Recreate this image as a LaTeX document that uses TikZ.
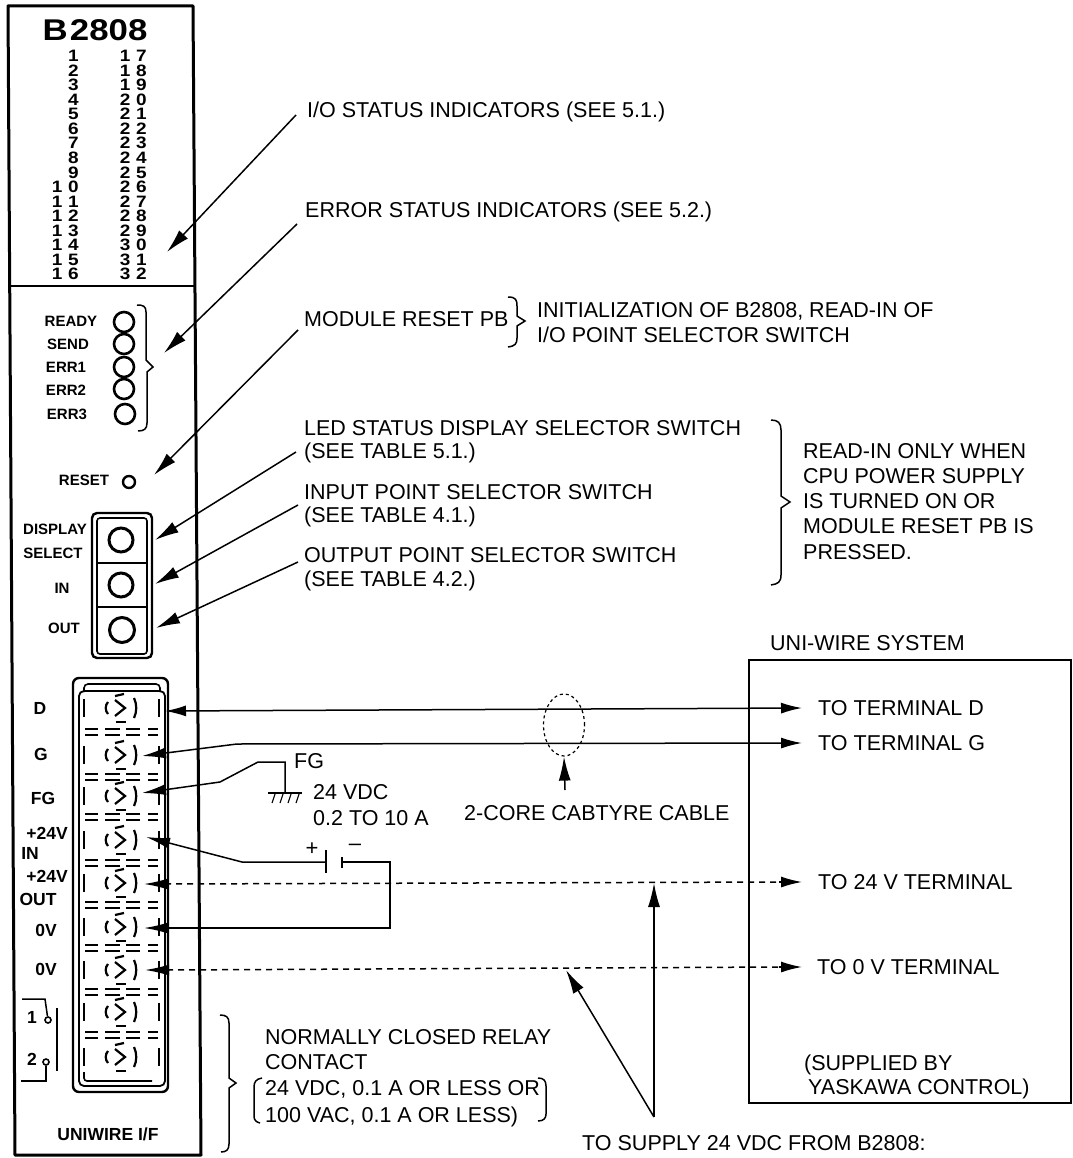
\documentclass[tikz,border=0pt]{standalone}
\usepackage{fontspec}
\setmainfont{Liberation Sans}
\usetikzlibrary{arrows.meta,calc,shapes.geometric}
\newcommand{\dg}{\kern5pt}
\newcommand{\tl}[4]{\node[lab] (#1) at (#2,#3+7.5) {#4};}
\tikzset{
  x=1pt,y=-1pt,
  lab/.style={anchor=base west,inner sep=0pt,font=\fontsize{21.5}{23}\selectfont},
  pan/.style={inner sep=0pt,font=\fontsize{15}{16}\selectfont\bfseries},
  term/.style={inner sep=0pt,font=\fontsize{17.5}{18}\selectfont\bfseries},
  num/.style={anchor=east,inner sep=0pt,xscale=1.15,font=\fontsize{16.5}{17}\selectfont\bfseries},
  wire/.style={line width=1.5pt},
  dash wire/.style={line width=1.5pt,dash pattern=on 6pt off 5pt},
  frame/.style={line width=3pt},
  heavy/.style={line width=2.4pt},
  head/.style={-{Latex[length=24pt,width=12pt]}},
  rhead/.style={-{Latex[length=21pt,width=11pt]}},
  dhead/.style={{Latex[length=21pt,width=11pt]}-{Latex[length=21pt,width=11pt]}},
  headback/.style={{Latex[length=24pt,width=11pt]}-},
  led/.style={circle,draw,line width=2.6pt,inner sep=0pt,minimum size=20pt},
  dial/.style={circle,draw,line width=3pt,inner sep=0pt,minimum size=24pt},
}
\begin{document}
\begin{tikzpicture}
\useasboundingbox (0,0) rectangle (1072,1158);
% module frame
\draw[frame,line join=round] (8,6) -- (193,6) -- (201,1155) -- (15,1155) -- cycle;
\draw[line width=2pt] (9,286) -- (194,286);
\node[inner sep=0pt,font=\fontsize{30}{30}\selectfont\bfseries,xscale=1.16] (title) at (95,30) {B\kern2pt 2808};
% numbers
\foreach \n [count=\k from 0] in {1,2,3,4,5,6,7,8,9,1\dg 0,1\dg 1,1\dg 2,1\dg 3,1\dg 4,1\dg 5,1\dg 6}
  \node[num] (numa\k) at (79,{56+14.55*\k}) {\n};
\foreach \n [count=\k from 0] in {1\dg 7,1\dg 8,1\dg 9,2\dg 0,2\dg 1,2\dg 2,2\dg 3,2\dg 4,2\dg 5,2\dg 6,2\dg 7,2\dg 8,2\dg 9,3\dg 0,3\dg 1,3\dg 2}
  \node[num] (numb\k) at (147,{56+14.55*\k}) {\n};
% LEDs
\node[pan] (ready) at (71,321) {READY};
\node[pan] (send) at (68,344) {SEND};
\node[pan] (erra) at (66,367) {ERR1};
\node[pan] (errb) at (66,390) {ERR2};
\node[pan] (errc) at (67,414) {ERR3};
\node[led] (leda) at (124,322) {};
\node[led] (ledb) at (124,344) {};
\node[led] (ledc) at (124,367) {};
\node[led] (ledd) at (124,389) {};
\node[led] (lede) at (125,414) {};
\draw[wire] (137,305) .. controls (143,305) and (146,306) .. (146,312) -- (146,360) -- (153,367) -- (147,372) -- (147,423) .. controls (147,429) and (144,431) .. (138,431);
\node[pan] (reset) at (84,480) {RESET};
\node[circle,draw,line width=2.4pt,inner sep=0pt,minimum size=12pt] (resetb) at (129,482) {};
% switches
\draw[heavy,rounded corners=5pt] (92,513) rectangle (152,658);
\draw[line width=1.6pt,rounded corners=3pt] (97,518) rectangle (147,654);
\draw[heavy] (97,563) -- (147,563) (97,607) -- (147,607);
\node[dial] (dsel) at (121,540) {};
\node[dial] (din) at (121,585) {};
\node[dial,minimum size=25pt] (dout) at (122,630) {};
\node[pan] (display) at (55,529) {DISPLAY};
\node[pan] (select) at (53,553) {SELECT};
\node[pan] (inl) at (62,588) {IN};
\node[pan] (outl) at (64,628) {OUT};
% connector block
\draw[heavy,rounded corners=6pt] (73,678) rectangle (168,1092);
\draw[line width=1.8pt,rounded corners=5pt] (79,691) rectangle (165,1086);
\draw[line width=1.6pt,rounded corners=4pt] (84,692) -- (84,684) -- (160,684) -- (160,692);
\draw[line width=1.6pt,rounded corners=3pt] (84,1072) -- (84,1081) -- (152,1081);
\foreach \y in {708,755,796,840,883,927,970,1012,1057}{
  \begin{scope}[shift={(0,\y)},line width=2.2pt]
    \draw (108,-6) .. controls (105,-3) and (105,3) .. (108,6);
    \draw (134,-10) .. controls (137,-4) and (137,4) .. (134,10);
    \draw (115,-8) -- (125,0) -- (115,8);
    \draw (115,-12) -- (124,-14);
    \draw (116,14) -- (126,14);
    \draw (84,-9) -- (84,9);
    \draw (159,-9) -- (159,9);
  \end{scope}}
\foreach \y in {732,777,817,863,905,948,992,1035}{
  \begin{scope}[shift={(0,\y)},line width=2.2pt]
    \draw (85,-3) -- (98,-3) (105,-3) -- (120,-3) (126,-3) -- (140,-3) (148,-3) -- (158,-3);
    \draw (85,3) -- (98,3) (105,3) -- (120,3) (126,3) -- (140,3) (148,3) -- (158,3);
  \end{scope}}
\node[term] (td) at (40,708) {D};
\node[term] (tg) at (41,754) {G};
\node[term] (tfg) at (43,798) {FG};
\node[term] (tpi) at (47,833) {+24V};
\node[term] (tin) at (30,853) {IN};
\node[term] (tpo) at (47,876) {+24V};
\node[term] (tout) at (38,899) {OUT};
\node[term] (tza) at (46,930) {0V};
\node[term] (tzb) at (46,969) {0V};
\node[term] (rone) at (32,1017) {1};
\node[term] (rtwo) at (32,1059) {2};
\node[circle,draw,line width=1.6pt,inner sep=0pt,minimum size=6pt] (ca) at (48,1020) {};
\node[circle,draw,line width=1.6pt,inner sep=0pt,minimum size=6pt] (cb) at (46,1062) {};
\coordinate (ra) at (22,999);
\coordinate (rb) at (21,1081);
\draw[wire] (ra) -- (45,999) -- (ca);
\draw[wire] (rb) -- (46,1081) -- (cb);
\draw[wire] (57,1008) -- (57,1071);
\node[term] (uni) at (108,1134) {UNIWIRE I/F};
% annotation texts
\tl{tio}{307}{110}{I/O STATUS INDICATORS (SEE 5.1.)}
\tl{terr}{305}{210}{ERROR STATUS INDICATORS (SEE 5.2.)}
\tl{tmod}{304}{319}{MODULE RESET PB}
\tl{tini}{537}{310}{INITIALIZATION OF B2808, READ-IN OF}
\tl{tios}{537}{335}{I/O POINT SELECTOR SWITCH}
\tl{tled}{304}{428}{LED STATUS DISPLAY SELECTOR SWITCH}
\tl{tsa}{304}{451}{(SEE TABLE 5.1.)}
\tl{tinp}{304}{492}{INPUT POINT SELECTOR SWITCH}
\tl{tsb}{304}{515}{(SEE TABLE 4.1.)}
\tl{toup}{304}{555}{OUTPUT POINT SELECTOR SWITCH}
\tl{tsc}{304}{579}{(SEE TABLE 4.2.)}
\tl{tra}{803}{451}{READ-IN ONLY WHEN}
\tl{trb}{803}{476}{CPU POWER SUPPLY}
\tl{trc}{803}{501}{IS TURNED ON OR}
\tl{trd}{803}{526}{MODULE RESET PB IS}
\tl{tre}{803}{552}{PRESSED.}
\tl{tuni}{770}{643}{UNI-WIRE SYSTEM}
\tl{ttd}{818}{708}{TO TERMINAL D}
\tl{ttg}{818}{743}{TO TERMINAL G}
\tl{tt24}{818}{882}{TO 24 V TERMINAL}
\tl{tt0}{817}{967}{TO 0 V TERMINAL}
\tl{tsup}{804}{1063}{(SUPPLIED BY}
\tl{tyas}{808}{1087}{YASKAWA CONTROL)}
\tl{tfgl}{294}{761}{FG}
\tl{tvdc}{313}{792}{24 VDC}
\tl{tamp}{313}{818}{0.2 TO 10 A}
\tl{tcab}{464}{813}{2-CORE CABTYRE CABLE}
\tl{tnca}{265}{1037}{NORMALLY CLOSED RELAY}
\tl{tncb}{265}{1062}{CONTACT}
\tl{tncc}{265}{1088}{24 VDC, 0.1 A OR LESS OR}
\tl{tncd}{265}{1115}{100 VAC, 0.1 A OR LESS)}
\tl{tsupply}{582}{1143}{TO SUPPLY 24 VDC FROM B2808:}
\node[inner sep=0pt,font=\fontsize{22}{22}\selectfont] (plus) at (312,849) {+};
\node[inner sep=0pt,font=\fontsize{22}{22}\selectfont] (minus) at (355,847) {–};
% braces and brackets
\draw[wire] (508,297) .. controls (516,297) and (517,300) .. (517,306) -- (517,316) -- (525,321) -- (517,326) -- (517,338) .. controls (517,344) and (515,346) .. (508,347);
\draw[wire] (771,420) .. controls (778,420) and (781,423) .. (781,430) -- (781,496) -- (790,502) -- (781,508) -- (781,575) .. controls (781,582) and (778,584) .. (771,585);
\draw[wire] (220,1015) .. controls (226,1015) and (229,1017) .. (229,1023) -- (229,1078) -- (236,1083) -- (229,1088) -- (229,1144) .. controls (229,1150) and (226,1152) .. (221,1152);
\draw[wire] (262,1078) .. controls (256,1079) and (254,1082) .. (254,1087) -- (254,1116) .. controls (254,1120) and (256,1122) .. (260,1123);
\draw[wire] (538,1078) .. controls (544,1078) and (546,1081) .. (546,1086) -- (546,1114) .. controls (546,1118) and (544,1121) .. (538,1121);
% UNI-WIRE box
\draw[wire] (749,660) rectangle (1071,1103);
% annotation arrows
\coordinate (sa) at (296,115); \coordinate (ea) at (167,252);
\coordinate (sb) at (297,224); \coordinate (eb) at (164,353);
\coordinate (sc) at (298,330); \coordinate (ec) at (154,475);
\coordinate (sd) at (296,452); \coordinate (ed) at (155,540);
\coordinate (se) at (298,505); \coordinate (ee) at (155,584);
\coordinate (sf) at (298,562); \coordinate (ef) at (156,628);
\foreach \p/\q in {sa/ea,sb/eb,sc/ec,sd/ed,se/ee,sf/ef}
  \draw[wire,head] (\p) -- (\q);
% terminals wiring
\coordinate (dl) at (165,711); \coordinate (dr) at (802,708);
\coordinate (gl) at (142,756); \coordinate (gm) at (237,744); \coordinate (gr) at (802,743);
\coordinate (fl) at (142,793); \coordinate (fa) at (220,782); \coordinate (fb) at (258,762); \coordinate (fc) at (285,762);
\coordinate (gnd) at (285,793);
\draw[wire,dhead] (dl) -- (dr);
\draw[wire,rhead] (gm) -- (gr);
\draw[wire,headback] (gl) -- (gm);
\draw[wire,headback] (fl) -- (fa) -- (fb) -- (fc) -- (gnd);
\draw[wire] (268,793) -- (302,793);
\foreach \x in {272,280,288,296} \draw[line width=1.1pt] (\x,803) -- (\x+3,794);
% battery
\coordinate (il) at (146,837); \coordinate (im) at (242,862);
\coordinate (pa) at (326,862); \coordinate (pb) at (342,862);
\coordinate (rc) at (390,862); \coordinate (rd) at (390,928); \coordinate (zl) at (144,928);
\draw[wire,headback] (il) -- (im) -- (pa);
\draw[wire] (326,850) -- (326,873);
\draw[wire] (342,857) -- (342,868);
\draw[wire,headback] (zl) -- (rd) -- (rc) -- (pb);
% dashed supply lines
\coordinate (ol) at (144,884); \coordinate (ov) at (165,884); \coordinate (orr) at (781,882); \coordinate (ort) at (802,882);
\coordinate (zv) at (145,970); \coordinate (zm) at (167,970); \coordinate (zr) at (781,967); \coordinate (zt) at (802,967);
\draw[wire,headback] (ol) -- (ov);
\draw[dash wire] (ov) -- (orr);
\draw[wire,rhead] (orr) ++(-2,0) -- (ort);
\draw[wire,headback] (zv) -- (zm);
\draw[dash wire] (zm) -- (zr);
\draw[wire,rhead] (zr) ++(-2,0) -- (zt);
% supply arrows
\coordinate (ua) at (654,1093); \coordinate (ub) at (654,883);
\coordinate (uc) at (654,1117); \coordinate (ud) at (566,970);
\draw[wire,head] (uc) -- (ub);
\draw[wire,head] (uc) -- (ud);
% cable mark
\node[ellipse,draw,dashed,line width=1.2pt,minimum width=41pt,minimum height=62pt,inner sep=0pt] (cable) at (564,725) {};
\coordinate (cs) at (565,790);
\draw[wire,head] (cs) -- (cable.south);
\end{tikzpicture}
\end{document}
